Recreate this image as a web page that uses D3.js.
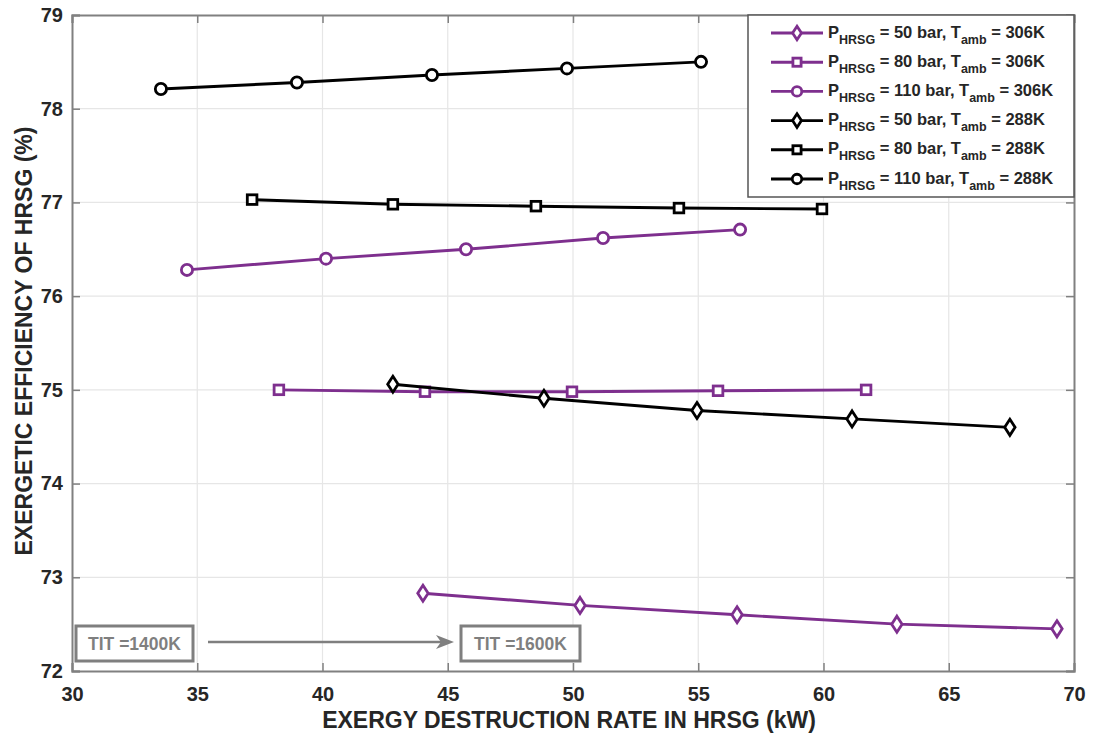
<!DOCTYPE html>
<html>
<head>
<meta charset="utf-8">
<script src="https://cdn.jsdelivr.net/npm/d3@7"></script>
<style>
  html, body { margin: 0; padding: 0; background: #fff; }
  svg { display: block; font-family: "Liberation Sans", Arial, sans-serif; }
</style>
</head>
<body>
<svg id="chart" width="1094" height="737"></svg>
<script>
// Exergy destruction rate (kW) and exergetic efficiency (%) for each HRSG case
const xTicks = [30, 35, 40, 45, 50, 55, 60, 65, 70];
const yTicks = [72, 73, 74, 75, 76, 77, 78, 79];

const p50_306_x = [44.01, 50.28, 56.55, 62.93, 69.32];
const p50_306_y = [72.83, 72.70, 72.60, 72.50, 72.45];
const p80_306_x = [38.26, 44.09, 49.96, 55.79, 61.70];
const p80_306_y = [75.00, 74.98, 74.98, 74.99, 75.00];
const p110_306_x = [34.59, 40.14, 45.73, 51.20, 56.67];
const p110_306_y = [76.28, 76.40, 76.50, 76.62, 76.71];
const p50_288_x = [42.81, 48.84, 54.95, 61.14, 67.44];
const p50_288_y = [75.06, 74.91, 74.78, 74.69, 74.60];
const p80_288_x = [37.19, 42.81, 48.52, 54.23, 59.94];
const p80_288_y = [77.03, 76.98, 76.96, 76.94, 76.93];
const p110_288_x = [33.55, 38.98, 44.37, 49.76, 55.11];
const p110_288_y = [78.21, 78.28, 78.36, 78.43, 78.50];

const pressures = ["50", "80", "110", "50", "80", "110"];
const ambients = ["306K", "306K", "306K", "288K", "288K", "288K"];

const purple = "#7E2F8E";
const black = "#000000";

const series = [
  { p: pressures[0], t: ambients[0], xs: p50_306_x, ys: p50_306_y, color: purple, marker: "diamond" },
  { p: pressures[1], t: ambients[1], xs: p80_306_x, ys: p80_306_y, color: purple, marker: "square" },
  { p: pressures[2], t: ambients[2], xs: p110_306_x, ys: p110_306_y, color: purple, marker: "circle" },
  { p: pressures[3], t: ambients[3], xs: p50_288_x, ys: p50_288_y, color: black, marker: "diamond" },
  { p: pressures[4], t: ambients[4], xs: p80_288_x, ys: p80_288_y, color: black, marker: "square" },
  { p: pressures[5], t: ambients[5], xs: p110_288_x, ys: p110_288_y, color: black, marker: "circle" }
];

const svg = d3.select("#chart");
const plotL = 72, plotR = 1074, plotT = 15, plotB = 671;

const x = d3.scaleLinear().domain([30, 70]).range([plotL, plotR]);
const y = d3.scaleLinear().domain([72, 79]).range([plotB, plotT]);

const frameColor = "#808080";
const textColor = "#262626";

// grid lines
const grid = svg.append("g");
grid.selectAll(".gx").data(xTicks.slice(1, -1)).join("line")
  .attr("x1", d => x(d)).attr("x2", d => x(d))
  .attr("y1", plotT).attr("y2", plotB)
  .attr("stroke", "#e6e6e6").attr("stroke-width", 1.2);
grid.selectAll(".gy").data(yTicks.slice(1, -1)).join("line")
  .attr("y1", d => y(d)).attr("y2", d => y(d))
  .attr("x1", plotL).attr("x2", plotR)
  .attr("stroke", "#e6e6e6").attr("stroke-width", 1.2);

// axes with inward ticks on all four sides
const tickLen = 8;
const xAxisB = d3.axisBottom(x).tickValues(xTicks).tickSize(-tickLen).tickPadding(16).tickFormat(d3.format("d"));
const xAxisT = d3.axisTop(x).tickValues(xTicks).tickSize(-tickLen).tickFormat("");
const yAxisL = d3.axisLeft(y).tickValues(yTicks).tickSize(-tickLen).tickPadding(9).tickFormat(d3.format("d"));
const yAxisR = d3.axisRight(y).tickValues(yTicks).tickSize(-tickLen).tickFormat("");

function styleAxis(g) {
  g.selectAll("path").attr("stroke", frameColor).attr("stroke-width", 2);
  g.selectAll("line").attr("stroke", frameColor).attr("stroke-width", 1.5);
  g.selectAll("text").attr("fill", textColor).attr("font-size", 20).attr("font-weight", "bold")
    .attr("font-family", "'Liberation Sans', Arial, sans-serif");
}

svg.append("g").attr("transform", `translate(0,${plotB})`).call(xAxisB).call(styleAxis);
svg.append("g").attr("transform", `translate(0,${plotT})`).call(xAxisT).call(styleAxis);
svg.append("g").attr("transform", `translate(${plotL},0)`).call(yAxisL).call(styleAxis);
svg.append("g").attr("transform", `translate(${plotR},0)`).call(yAxisR).call(styleAxis);

// axis titles
svg.append("text")
  .attr("x", 569).attr("y", 728)
  .attr("text-anchor", "middle").attr("font-size", 23).attr("font-weight", "bold")
  .attr("fill", textColor)
  .text("EXERGY DESTRUCTION RATE IN HRSG (kW)");
svg.append("text")
  .attr("transform", "translate(32,341) rotate(-90)")
  .attr("text-anchor", "middle").attr("font-size", 23).attr("font-weight", "bold")
  .attr("fill", textColor)
  .text("EXERGETIC EFFICIENCY OF HRSG (%)");

// marker drawing
function drawMarker(g, type, cx, cy, color, scale) {
  const s = scale || 1;
  if (type === "circle") {
    g.append("circle").attr("cx", cx).attr("cy", cy).attr("r", 5.6 * s)
      .attr("fill", "#fff").attr("stroke", color).attr("stroke-width", 2.8);
  } else if (type === "square") {
    const h = 4.8 * s;
    g.append("rect").attr("x", cx - h).attr("y", cy - h).attr("width", 2 * h).attr("height", 2 * h)
      .attr("fill", "#fff").attr("stroke", color).attr("stroke-width", 2.8);
  } else {
    const w = 5.2 * s, h = 8 * s;
    g.append("polygon")
      .attr("points", `${cx},${cy - h} ${cx + w},${cy} ${cx},${cy + h} ${cx - w},${cy}`)
      .attr("fill", "#fff").attr("stroke", color).attr("stroke-width", 2.8)
      .attr("stroke-linejoin", "miter");
  }
}

// series lines and markers
const line = d3.line().x(d => x(d[0])).y(d => y(d[1]));
const plot = svg.append("g");
series.forEach(s => {
  const pts = s.xs.map((v, i) => [v, s.ys[i]]);
  plot.append("path").datum(pts).attr("d", line)
    .attr("fill", "none").attr("stroke", s.color).attr("stroke-width", 2.9);
  const mg = plot.append("g");
  pts.forEach(p => drawMarker(mg, s.marker, x(p[0]), y(p[1]), s.color, 1));
});

// TIT annotation
const gray = "#7f7f7f";
const ann = svg.append("g");
function annBox(x0, w, label) {
  ann.append("rect").attr("x", x0).attr("y", 626).attr("width", w).attr("height", 35)
    .attr("fill", "#fff").attr("stroke", gray).attr("stroke-width", 3);
  ann.append("text").attr("x", x0 + w / 2).attr("y", 650).attr("text-anchor", "middle")
    .attr("font-size", 17.5).attr("font-weight", "bold").attr("fill", gray).text(label);
}
annBox(76, 117, "TIT =1400K");
annBox(461, 119, "TIT =1600K");
ann.append("line").attr("x1", 208).attr("x2", 448).attr("y1", 642).attr("y2", 642)
  .attr("stroke", gray).attr("stroke-width", 2.4);
ann.append("path").attr("d", "M454,642 L436,635 L441,642 L436,649 Z").attr("fill", gray);

// legend
const lg = svg.append("g");
lg.append("rect").attr("x", 748).attr("y", 15).attr("width", 326).attr("height", 182)
  .attr("fill", "#fff").attr("stroke", "#555").attr("stroke-width", 1.5);
series.forEach((s, i) => {
  const cy = 33 + i * 29.2;
  lg.append("line").attr("x1", 771).attr("x2", 823).attr("y1", cy).attr("y2", cy)
    .attr("stroke", s.color).attr("stroke-width", 2.9);
  drawMarker(lg, s.marker, 797, cy, s.color, 0.85);
  const t = lg.append("text").attr("x", 828).attr("y", cy + 4.5)
    .attr("font-size", 16.5).attr("font-weight", "bold").attr("fill", textColor);
  t.append("tspan").text("P");
  t.append("tspan").attr("font-size", 12.5).attr("dy", 6).text("HRSG");
  t.append("tspan").attr("dy", -6).text(` = ${s.p} bar, T`);
  t.append("tspan").attr("font-size", 12.5).attr("dy", 6).text("amb");
  t.append("tspan").attr("dy", -6).text(` = ${s.t}`);
});
</script>
</body>
</html>
